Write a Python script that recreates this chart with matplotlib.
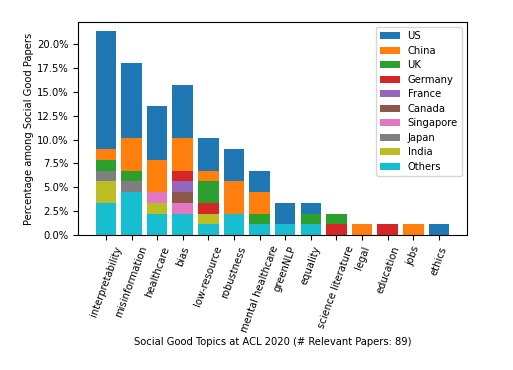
import numpy as np
import matplotlib
matplotlib.use('Agg')
import matplotlib.pyplot as plt
from matplotlib.ticker import PercentFormatter

total = 89
topics = ['interpretability', 'misinformation', 'healthcare', 'bias', 'low-resource',
          'robustness', 'mental healthcare', 'greenNLP', 'equality', 'science literature',
          'legal', 'education', 'jobs', 'ethics']
# paper counts per country (stacked from bottom: Others ... US)
others    = [3, 4, 2, 2, 1, 2, 1, 1, 1, 0, 0, 0, 0, 0]
india     = [2, 0, 1, 0, 1, 0, 0, 0, 0, 0, 0, 0, 0, 0]
japan     = [1, 1, 0, 0, 0, 0, 0, 0, 0, 0, 0, 0, 0, 0]
singapore = [0, 0, 1, 1, 0, 0, 0, 0, 0, 0, 0, 0, 0, 0]
canada    = [0, 0, 0, 1, 0, 0, 0, 0, 0, 0, 0, 0, 0, 0]
france    = [0, 0, 0, 1, 0, 0, 0, 0, 0, 0, 0, 0, 0, 0]
germany   = [0, 0, 0, 1, 1, 0, 0, 0, 0, 1, 0, 1, 0, 0]
uk        = [1, 1, 0, 0, 2, 0, 1, 0, 1, 1, 0, 0, 0, 0]
china     = [1, 3, 3, 3, 1, 3, 2, 0, 0, 0, 1, 0, 1, 0]
us        = [11, 7, 5, 5, 3, 3, 2, 2, 1, 0, 0, 0, 0, 1]

countries = ['US', 'China', 'UK', 'Germany', 'France', 'Canada', 'Singapore', 'Japan', 'India', 'Others']
series = [us, china, uk, germany, france, canada, singapore, japan, india, others]
colors = ['#1f77b4', '#ff7f0e', '#2ca02c', '#d62728', '#9467bd',
          '#8c564b', '#e377c2', '#7f7f7f', '#bcbd22', '#17becf']

fs = 7.2
fig, ax = plt.subplots(figsize=(5.13, 3.7), dpi=100)
x = np.arange(len(topics))
bottom = np.zeros(len(topics))
handles = {}
# draw bottom-up: Others first, US last
for name, vals, col in reversed(list(zip(countries, series, colors))):
    v = np.array(vals) / total * 100
    handles[name] = ax.bar(x, v, bottom=bottom, color=col, width=0.8, label=name)
    bottom += v

ax.legend([handles[c] for c in countries], countries, loc='upper right', fontsize=fs,
          labelspacing=0.45)
ax.yaxis.set_major_formatter(PercentFormatter(decimals=1))
ax.set_yticks(np.arange(0, 20.1, 2.5))
ax.set_ylim(0, 22.3)
ax.set_xticks(x)
ax.set_xticklabels(topics, rotation=70, fontsize=fs)
ax.tick_params(axis='y', labelsize=fs)
ax.set_xlabel('Social Good Topics at ACL 2020 (# Relevant Papers: 89)', fontsize=fs, labelpad=2)
ax.set_ylabel('Percentage among Social Good Papers', fontsize=fs, labelpad=2)
plt.subplots_adjust(left=0.152, right=0.91, top=0.94, bottom=0.365)
plt.savefig('out.png')
